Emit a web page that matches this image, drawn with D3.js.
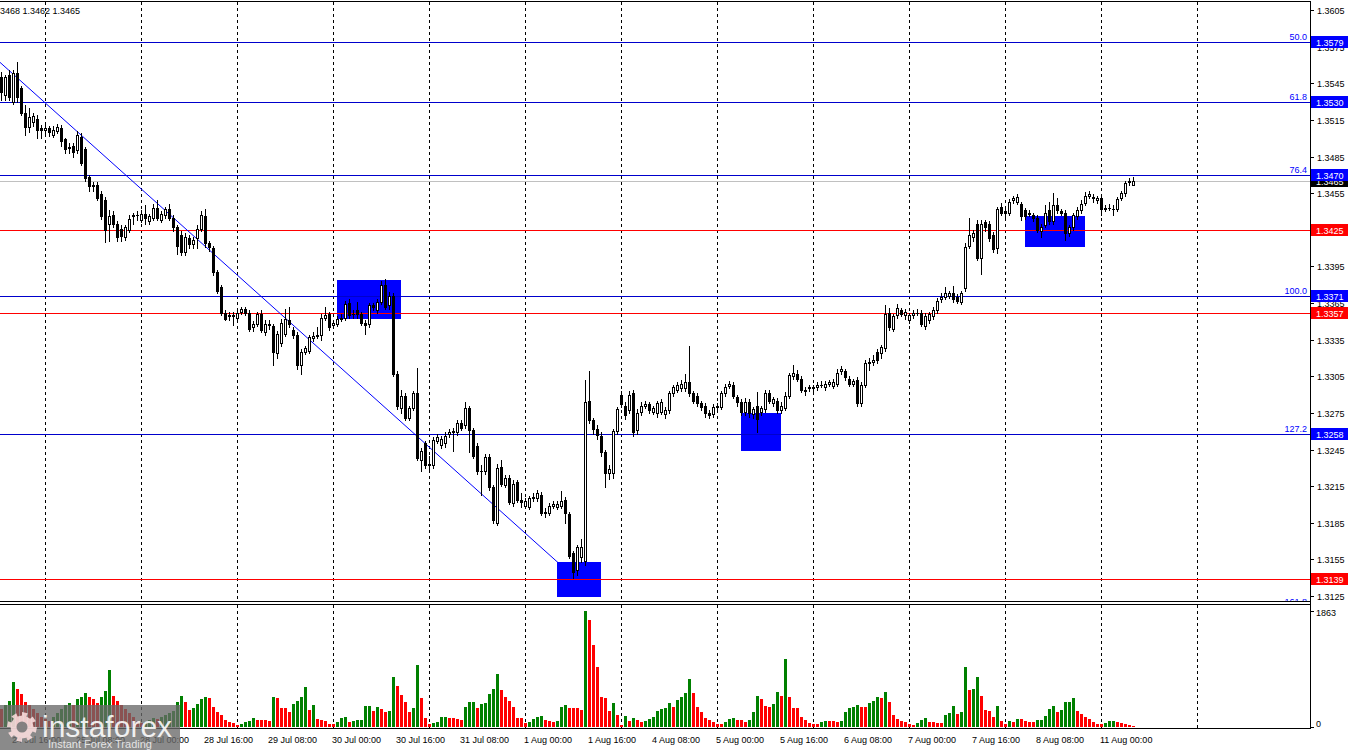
<!DOCTYPE html>
<html><head><meta charset="utf-8">
<script src="https://cdn.jsdelivr.net/npm/d3@7"></script>
<style>
body{margin:0;background:#fff;}
svg{display:block;font-family:"Liberation Sans",Arial,sans-serif;}
</style>
</head><body>
<svg id="c" width="1350" height="750"></svg>
<script>
// ---------------- DATA ----------------
const days = [
  {label:"24 Jul", from:13, to:23},
  {label:"25 Jul", from:0, to:23},
  {label:"28 Jul", from:0, to:23},
  {label:"29 Jul", from:0, to:23},
  {label:"30 Jul", from:0, to:23},
  {label:"31 Jul", from:0, to:23},
  {label:"1 Aug", from:0, to:23},
  {label:"4 Aug", from:0, to:23},
  {label:"5 Aug", from:0, to:23},
  {label:"6 Aug", from:0, to:23},
  {label:"7 Aug", from:0, to:23},
  {label:"8 Aug", from:0, to:23},
  {label:"11 Aug", from:0, to:8}
];
const futureDays = ["12 Aug"];

const open = [
1.3550,1.3535,1.3552,1.3530,1.3553,1.3541,1.3521,1.3509,1.3513,1.3516,1.3508,1.3507,
1.3508,1.3503,1.3506,1.3508,1.3499,1.3493,1.3494,1.3490,1.3501,1.3491,1.3468,1.3461,
1.3462,1.3454,1.3449,1.3430,1.3437,1.3430,1.3426,1.3419,1.3425,1.3436,1.3437,1.3433,
1.3438,1.3432,1.3435,1.3443,1.3433,1.3437,1.3442,1.3435,1.3427,1.3421,1.3407,1.3418,
1.3413,1.3418,1.3426,1.3436,1.3414,1.3410,1.3390,1.3378,1.3357,1.3354,1.3355,1.3353,
1.3358,1.3360,1.3357,1.3345,1.3348,1.3356,1.3341,1.3348,1.3346,1.3324,1.3332,1.3340,
1.3351,1.3343,1.3339,1.3314,1.3325,1.3326,1.3336,1.3338,1.3339,1.3353,1.3356,1.3347,
1.3348,1.3352,1.3353,1.3365,1.3356,1.3359,1.3356,1.3349,1.3348,1.3363,1.3359,1.3366,
1.3380,1.3363,1.3371,1.3307,1.3279,1.3289,1.3271,1.3279,1.3291,1.3236,1.3250,1.3233,
1.3232,1.3252,1.3249,1.3250,1.3258,1.3259,1.3259,1.3267,1.3265,1.3279,1.3261,1.3248,
1.3227,1.3227,1.3239,1.3214,1.3185,1.3231,1.3216,1.3222,1.3201,1.3218,1.3204,1.3199,
1.3198,1.3205,1.3205,1.3208,1.3194,1.3193,1.3199,1.3198,1.3199,1.3204,1.3192,1.3160,
1.3146,1.3157,1.3154,1.3285,1.3269,1.3262,1.3256,1.3243,1.3226,1.3226,1.3260,1.3290,
1.3281,1.3277,1.3291,1.3261,1.3276,1.3281,1.3282,1.3276,1.3275,1.3276,1.3274,1.3277,
1.3291,1.3294,1.3295,1.3295,1.3300,1.3291,1.3289,1.3283,1.3281,1.3275,1.3274,1.3280,
1.3280,1.3291,1.3297,1.3298,1.3288,1.3284,1.3276,1.3284,1.3274,1.3281,1.3276,1.3278,
1.3291,1.3283,1.3285,1.3277,1.3279,1.3289,1.3305,1.3307,1.3303,1.3294,1.3295,1.3296,
1.3296,1.3298,1.3296,1.3299,1.3297,1.3299,1.3309,1.3309,1.3303,1.3299,1.3302,1.3283,
1.3298,1.3316,1.3317,1.3325,1.3324,1.3328,1.3357,1.3344,1.3355,1.3359,1.3355,1.3351,
1.3355,1.3357,1.3357,1.3346,1.3351,1.3354,1.3359,1.3368,1.3370,1.3371,1.3373,1.3370,
1.3366,1.3377,1.3412,1.3419,1.3430,1.3402,1.3431,1.3430,1.3421,1.3410,1.3444,1.3440,
1.3439,1.3449,1.3448,1.3446,1.3441,1.3439,1.3437,1.3435,1.3424,1.3429,1.3441,1.3432,
1.3445,1.3440,1.3439,1.3422,1.3427,1.3436,1.3441,1.3447,1.3453,1.3452,1.3449,1.3451,
1.3442,1.3443,1.3442,1.3442,1.3451,1.3455,1.3464,1.3462];

const close = [
1.3538,1.3550,1.3534,1.3553,1.3534,1.3521,1.3509,1.3517,1.3518,1.3507,1.3507,1.3508,
1.3505,1.3507,1.3509,1.3498,1.3491,1.3492,1.3489,1.3503,1.3480,1.3467,1.3461,1.3462,
1.3451,1.3436,1.3425,1.3436,1.3430,1.3419,1.3420,1.3427,1.3434,1.3437,1.3437,1.3438,
1.3435,1.3436,1.3443,1.3435,1.3438,1.3442,1.3435,1.3427,1.3412,1.3407,1.3419,1.3413,
1.3417,1.3426,1.3437,1.3414,1.3411,1.3390,1.3375,1.3357,1.3352,1.3355,1.3354,1.3357,
1.3360,1.3357,1.3344,1.3348,1.3356,1.3343,1.3348,1.3347,1.3325,1.3340,1.3349,1.3352,
1.3348,1.3339,1.3314,1.3325,1.3328,1.3337,1.3338,1.3339,1.3353,1.3355,1.3345,1.3349,
1.3352,1.3353,1.3364,1.3355,1.3356,1.3356,1.3349,1.3347,1.3363,1.3362,1.3366,1.3380,
1.3362,1.3371,1.3307,1.3281,1.3289,1.3271,1.3279,1.3291,1.3238,1.3244,1.3232,1.3232,
1.3253,1.3255,1.3254,1.3256,1.3259,1.3260,1.3267,1.3263,1.3279,1.3261,1.3240,1.3227,
1.3227,1.3239,1.3214,1.3187,1.3230,1.3217,1.3222,1.3202,1.3217,1.3204,1.3202,1.3203,
1.3205,1.3206,1.3209,1.3193,1.3193,1.3199,1.3200,1.3200,1.3203,1.3193,1.3158,1.3145,
1.3165,1.3165,1.3284,1.3269,1.3262,1.3257,1.3243,1.3226,1.3229,1.3260,1.3278,1.3282,
1.3273,1.3290,1.3259,1.3275,1.3281,1.3282,1.3277,1.3279,1.3283,1.3284,1.3277,1.3291,
1.3296,1.3298,1.3299,1.3300,1.3291,1.3285,1.3283,1.3280,1.3275,1.3273,1.3280,1.3281,
1.3291,1.3296,1.3299,1.3289,1.3284,1.3276,1.3284,1.3275,1.3278,1.3270,1.3279,1.3291,
1.3285,1.3286,1.3277,1.3281,1.3289,1.3306,1.3308,1.3303,1.3294,1.3293,1.3296,1.3295,
1.3298,1.3298,1.3299,1.3300,1.3300,1.3308,1.3311,1.3304,1.3299,1.3301,1.3283,1.3298,
1.3316,1.3317,1.3318,1.3318,1.3329,1.3356,1.3345,1.3354,1.3361,1.3356,1.3358,1.3355,
1.3357,1.3357,1.3348,1.3354,1.3356,1.3359,1.3367,1.3370,1.3373,1.3373,1.3368,1.3367,
1.3373,1.3411,1.3421,1.3422,1.3402,1.3430,1.3427,1.3418,1.3409,1.3442,1.3439,1.3439,
1.3448,1.3451,1.3452,1.3436,1.3436,1.3438,1.3435,1.3425,1.3427,1.3439,1.3432,1.3445,
1.3441,1.3439,1.3422,1.3427,1.3437,1.3441,1.3446,1.3453,1.3454,1.3451,1.3451,1.3442,
1.3443,1.3443,1.3442,1.3450,1.3455,1.3463,1.3465,1.3465];

const high = [
1.3554,1.3552,1.3556,1.3556,1.3562,1.3543,1.3527,1.3525,1.3521,1.3519,1.3511,1.3511,
1.3510,1.3510,1.3512,1.3511,1.3500,1.3496,1.3496,1.3506,1.3504,1.3493,1.3470,1.3464,
1.3464,1.3457,1.3452,1.3441,1.3440,1.3432,1.3429,1.3429,1.3437,1.3439,1.3440,1.3441,
1.3445,1.3438,1.3446,1.3449,1.3440,1.3444,1.3446,1.3437,1.3429,1.3424,1.3422,1.3421,
1.3419,1.3429,1.3440,1.3442,1.3416,1.3412,1.3392,1.3380,1.3359,1.3358,1.3358,1.3359,
1.3362,1.3362,1.3359,1.3350,1.3358,1.3359,1.3351,1.3351,1.3348,1.3342,1.3352,1.3360,
1.3362,1.3345,1.3341,1.3327,1.3330,1.3339,1.3341,1.3345,1.3356,1.3362,1.3358,1.3351,
1.3354,1.3356,1.3367,1.3368,1.3359,1.3366,1.3358,1.3351,1.3365,1.3365,1.3368,1.3383,
1.3385,1.3374,1.3373,1.3309,1.3294,1.3291,1.3281,1.3293,1.3312,1.3246,1.3252,1.3240,
1.3255,1.3258,1.3256,1.3259,1.3262,1.3263,1.3269,1.3269,1.3284,1.3281,1.3263,1.3250,
1.3232,1.3241,1.3241,1.3216,1.3233,1.3236,1.3224,1.3224,1.3220,1.3220,1.3209,1.3205,
1.3207,1.3209,1.3212,1.3210,1.3197,1.3201,1.3203,1.3203,1.3211,1.3206,1.3194,1.3162,
1.3167,1.3172,1.3302,1.3309,1.3271,1.3265,1.3259,1.3245,1.3232,1.3262,1.3280,1.3293,
1.3284,1.3293,1.3294,1.3278,1.3284,1.3285,1.3284,1.3281,1.3285,1.3286,1.3280,1.3293,
1.3298,1.3300,1.3302,1.3307,1.3330,1.3293,1.3291,1.3285,1.3283,1.3277,1.3282,1.3283,
1.3293,1.3299,1.3301,1.3300,1.3290,1.3286,1.3287,1.3286,1.3280,1.3292,1.3281,1.3294,
1.3294,1.3288,1.3287,1.3284,1.3292,1.3308,1.3314,1.3310,1.3305,1.3296,1.3298,1.3298,
1.3300,1.3301,1.3301,1.3302,1.3303,1.3311,1.3313,1.3311,1.3305,1.3303,1.3304,1.3300,
1.3318,1.3320,1.3322,1.3327,1.3331,1.3363,1.3361,1.3356,1.3364,1.3361,1.3360,1.3357,
1.3359,1.3360,1.3359,1.3357,1.3358,1.3362,1.3369,1.3373,1.3378,1.3375,1.3379,1.3372,
1.3375,1.3414,1.3435,1.3425,1.3433,1.3433,1.3433,1.3432,1.3423,1.3444,1.3447,1.3443,
1.3450,1.3453,1.3454,1.3448,1.3443,1.3441,1.3439,1.3437,1.3430,1.3445,1.3448,1.3455,
1.3451,1.3442,1.3441,1.3429,1.3439,1.3444,1.3449,1.3456,1.3457,1.3454,1.3453,1.3453,
1.3445,1.3446,1.3445,1.3452,1.3457,1.3465,1.3467,1.3468];

const low = [
1.3531,1.3531,1.3531,1.3528,1.3530,1.3519,1.3503,1.3505,1.3510,1.3500,1.3500,1.3503,
1.3502,1.3501,1.3504,1.3494,1.3488,1.3488,1.3485,1.3488,1.3478,1.3465,1.3457,1.3457,
1.3449,1.3434,1.3415,1.3416,1.3427,1.3416,1.3416,1.3417,1.3423,1.3430,1.3433,1.3431,
1.3430,1.3430,1.3433,1.3433,1.3431,1.3435,1.3433,1.3424,1.3405,1.3404,1.3404,1.3410,
1.3410,1.3410,1.3424,1.3411,1.3408,1.3388,1.3373,1.3355,1.3351,1.3351,1.3347,1.3350,
1.3356,1.3355,1.3342,1.3342,1.3346,1.3341,1.3339,1.3344,1.3314,1.3320,1.3330,1.3338,
1.3345,1.3336,1.3311,1.3307,1.3323,1.3324,1.3334,1.3336,1.3335,1.3351,1.3343,1.3345,
1.3346,1.3350,1.3351,1.3353,1.3353,1.3353,1.3347,1.3340,1.3345,1.3359,1.3357,1.3364,
1.3360,1.3360,1.3305,1.3278,1.3275,1.3269,1.3269,1.3277,1.3236,1.3227,1.3230,1.3228,
1.3230,1.3250,1.3246,1.3247,1.3255,1.3244,1.3257,1.3261,1.3263,1.3243,1.3238,1.3225,
1.3208,1.3225,1.3212,1.3185,1.3183,1.3215,1.3214,1.3200,1.3199,1.3202,1.3198,1.3197,
1.3196,1.3203,1.3203,1.3191,1.3190,1.3191,1.3197,1.3196,1.3197,1.3185,1.3156,1.3140,
1.3142,1.3153,1.3150,1.3267,1.3258,1.3254,1.3240,1.3214,1.3221,1.3222,1.3258,1.3280,
1.3270,1.3275,1.3256,1.3258,1.3273,1.3279,1.3275,1.3274,1.3272,1.3274,1.3271,1.3275,
1.3289,1.3292,1.3293,1.3293,1.3289,1.3283,1.3281,1.3277,1.3272,1.3271,1.3272,1.3278,
1.3278,1.3289,1.3295,1.3287,1.3281,1.3273,1.3273,1.3272,1.3271,1.3259,1.3273,1.3276,
1.3283,1.3281,1.3275,1.3275,1.3277,1.3287,1.3303,1.3301,1.3292,1.3290,1.3293,1.3293,
1.3294,1.3296,1.3294,1.3297,1.3295,1.3297,1.3307,1.3302,1.3297,1.3297,1.3281,1.3281,
1.3296,1.3310,1.3314,1.3316,1.3320,1.3326,1.3343,1.3342,1.3353,1.3354,1.3352,1.3349,
1.3353,1.3355,1.3346,1.3344,1.3349,1.3352,1.3357,1.3366,1.3368,1.3369,1.3366,1.3365,
1.3364,1.3375,1.3410,1.3416,1.3400,1.3389,1.3424,1.3416,1.3407,1.3406,1.3437,1.3435,
1.3437,1.3447,1.3446,1.3433,1.3434,1.3436,1.3432,1.3423,1.3419,1.3427,1.3430,1.3430,
1.3439,1.3437,1.3417,1.3420,1.3425,1.3434,1.3439,1.3445,1.3451,1.3448,1.3447,1.3437,
1.3440,1.3441,1.3437,1.3440,1.3449,1.3453,1.3462,1.3462];

const volume = [
288,352,416,720,608,528,400,352,288,224,160,128,
96,160,224,288,352,384,352,448,480,544,480,448,
384,480,576,912,496,416,352,288,224,160,96,64,
80,112,144,128,160,192,224,256,400,496,400,272,
304,368,448,480,464,320,240,192,112,80,64,32,
48,80,96,144,112,112,112,96,480,464,304,304,
240,368,416,480,640,272,352,128,112,96,48,48,
80,144,160,80,96,112,118,336,340,256,320,288,
240,256,800,656,512,400,240,304,992,464,144,48,
64,80,160,164,144,144,128,112,320,400,404,304,
368,384,528,608,848,592,480,416,320,144,140,64,
80,128,160,176,112,96,80,96,320,352,304,300,
298,272,1863,1712,1312,960,480,464,256,384,192,32,
176,96,144,112,80,96,128,160,256,288,304,384,
320,432,480,544,768,544,320,240,144,112,80,48,
44,80,128,144,112,108,80,112,240,496,448,336,
320,368,560,496,1088,480,304,300,160,112,64,48,
44,80,96,96,92,80,96,240,304,320,352,320,
320,384,416,480,464,560,400,192,128,96,80,48,
32,64,112,144,80,76,72,70,192,224,336,208,
240,960,592,608,800,496,272,256,160,336,96,48,
96,80,128,124,96,80,76,112,116,176,288,336,
240,272,400,404,464,256,208,160,128,80,48,44,
64,96,100,80,64,48,32,16];

const priceTicks = [1.3605,1.3575,1.3545,1.3515,1.3485,1.3455,1.3425,1.3395,1.3365,1.3335,1.3305,1.3275,1.3245,1.3215,1.3185,1.3155,1.3125];
const volumeTicks = [1863, 0];
const timeLabels = ["24 Jul 16:00","25 Jul 08:00","28 Jul 00:00","28 Jul 16:00","29 Jul 08:00","30 Jul 00:00","30 Jul 16:00","31 Jul 08:00","1 Aug 00:00","1 Aug 16:00","4 Aug 08:00","5 Aug 00:00","5 Aug 16:00","6 Aug 08:00","7 Aug 00:00","7 Aug 16:00","8 Aug 08:00","11 Aug 00:00"];

const fibLevels = [
  {name:"50.0", price:1.3579},
  {name:"61.8", price:1.3530},
  {name:"76.4", price:1.3470},
  {name:"100.0", price:1.3371},
  {name:"127.2", price:1.3258},
  {name:"161.8", price:1.3116}
];
const redLevels = [1.3425, 1.3357, 1.3139];
const bidPrice = 1.3465;
const headerText = "3468 1.3462 1.3465";
// zones: bar-index anchors and price bounds
const zoneFrom = [84, 139, 185, 256];
const zoneTo   = [100, 150, 195, 271];
const zoneTop  = [1.3384, 1.3153, 1.3275, 1.3436];
const zoneBot  = [1.3352, 1.3124, 1.3244, 1.3411];
// trend line anchors (bar index, price)
const trendBars = [0, 143];
const trendPrices = [1.3561, 1.3141];

// ---------------- LAYOUT ----------------
const svg = d3.select("#c");
const AX = 1310;             // right axis x
const P = {top:2, bottom:602};
const V = {top:605, bottom:728};
const FONT = 9;

const bars = [];
days.forEach(d => { for (let h = d.from; h <= d.to; h++) bars.push({day:d.label, hour:h}); });
const n = bars.length;
const data = d3.range(n).map(i => ({i, o:open[i], h:high[i], l:low[i], c:close[i], v:volume[i], t:bars[i]}));

const x = d3.scaleLinear().domain([0, n - 1]).range([1.5, 1.5 + 4 * (n - 1)]);
const y = d3.scaleLinear().domain([1.3125, 1.3605]).range([596, 10]);
const yv = d3.scaleLinear().domain([0, 1863]).range([727, 611]);

const fmt = d3.format(".4f");
const pad2 = h => (h < 10 ? "0" : "") + h + ":00";

// clip paths
const defs = svg.append("defs");
defs.append("clipPath").attr("id","clipP").append("rect").attr("x",0).attr("y",P.top).attr("width",AX).attr("height",P.bottom-P.top);
defs.append("clipPath").attr("id","clipV").append("rect").attr("x",0).attr("y",V.top).attr("width",AX).attr("height",V.bottom-V.top);

// grid (day boundaries)
const dayStarts = data.filter(d => d.t.hour === 0).map(d => d.i);
let lastStart = dayStarts[dayStarts.length - 1];
futureDays.forEach((fd, k) => dayStarts.push(lastStart + 24 * (k + 1)));
const grid = svg.append("g").attr("stroke","#000").attr("stroke-dasharray","3,3").attr("shape-rendering","crispEdges");
dayStarts.forEach(i => {
  const gx = Math.floor(x(i)) + 0.5;
  grid.append("line").attr("x1",gx).attr("x2",gx).attr("y1",P.top).attr("y2",P.bottom);
  grid.append("line").attr("x1",gx).attr("x2",gx).attr("y1",V.top).attr("y2",V.bottom);
});

// price pane contents
const pg = svg.append("g").attr("clip-path","url(#clipP)");
// zones
pg.selectAll("rect.zone").data(zoneFrom.map((f,k)=>({f, t:zoneTo[k], top:zoneTop[k], bot:zoneBot[k]})))
  .join("rect").attr("class","zone")
  .attr("x", d => Math.floor(x(d.f))).attr("width", d => Math.floor(x(d.t)) - Math.floor(x(d.f)))
  .attr("y", d => Math.round(y(d.top))).attr("height", d => Math.round(y(d.bot)) - Math.round(y(d.top)))
  .attr("fill","#0000FF").attr("shape-rendering","crispEdges");

// horizontal levels
const ly = p => Math.round(y(p)) + 0.5;
pg.append("line").attr("x1",0).attr("x2",AX).attr("y1",ly(bidPrice)).attr("y2",ly(bidPrice)).attr("stroke","#C0C0C0").attr("stroke-width",1).attr("shape-rendering","crispEdges");
fibLevels.forEach(f => {
  pg.append("line").attr("x1",0).attr("x2",AX).attr("y1",ly(f.price)).attr("y2",ly(f.price)).attr("stroke","#0000CC").attr("stroke-width",1).attr("shape-rendering","crispEdges");
  pg.append("text").attr("x",AX-3).attr("y",ly(f.price)-2.5).attr("text-anchor","end").attr("font-size",FONT).attr("fill","#0000FF").text(f.name);
});
redLevels.forEach(p => {
  pg.append("line").attr("x1",0).attr("x2",AX).attr("y1",ly(p)).attr("y2",ly(p)).attr("stroke","#FF0000").attr("stroke-width",1).attr("shape-rendering","crispEdges");
});

// trend line (extended to left edge)
const tSlope = (trendPrices[1]-trendPrices[0])/(trendBars[1]-trendBars[0]);
const iLeft = x.invert(0);
pg.append("line")
  .attr("x1",0).attr("y1",y(trendPrices[0] + tSlope*(iLeft-trendBars[0])))
  .attr("x2",x(trendBars[1])).attr("y2",y(trendPrices[1]))
  .attr("stroke","#0000FF").attr("stroke-width",1);

// candles
const cg = pg.append("g").attr("shape-rendering","crispEdges");
cg.selectAll("line.wick").data(data).join("line").attr("class","wick")
  .attr("x1",d=>x(d.i)).attr("x2",d=>x(d.i))
  .attr("y1",d=>Math.round(y(d.h))).attr("y2",d=>Math.round(y(d.l))+1)
  .attr("stroke","#000");
data.forEach(d => {
  const yo = Math.round(y(d.o)), yc = Math.round(y(d.c)), cx = x(d.i);
  if (d.c > d.o) {
    cg.append("rect").attr("x",cx-1).attr("y",yc+0.5).attr("width",2).attr("height",Math.max(yo-yc,1))
      .attr("fill","#fff").attr("stroke","#000");
  } else if (d.c < d.o) {
    cg.append("rect").attr("x",cx-1.5).attr("y",yo).attr("width",3).attr("height",Math.max(yc-yo+1,1)).attr("fill","#000");
  } else {
    cg.append("line").attr("x1",cx-1.5).attr("x2",cx+1.5).attr("y1",yo+0.5).attr("y2",yo+0.5).attr("stroke","#000");
  }
});

// volume pane
const vg = svg.append("g").attr("clip-path","url(#clipV)").attr("shape-rendering","crispEdges");
vg.selectAll("rect.vol").data(data).join("rect").attr("class","vol")
  .attr("x",d=>x(d.i)-1.5).attr("width",3)
  .attr("y",d=>Math.round(yv(d.v))).attr("height",d=>Math.max(yv(0)-Math.round(yv(d.v)),1))
  .attr("fill",d=> (d.i>0 && d.v > volume[d.i-1]) ? "#008000" : "#FF0000");

// frames
const fr = svg.append("g").attr("stroke","#000").attr("shape-rendering","crispEdges");
fr.append("line").attr("x1",0).attr("x2",AX+0.5).attr("y1",1.5).attr("y2",1.5);
fr.append("line").attr("x1",0).attr("x2",AX+0.5).attr("y1",P.bottom-0.5).attr("y2",P.bottom-0.5);
fr.append("line").attr("x1",0).attr("x2",AX+0.5).attr("y1",V.top-0.5).attr("y2",V.top-0.5);
fr.append("line").attr("x1",0).attr("x2",AX+0.5).attr("y1",V.bottom+0.5).attr("y2",V.bottom+0.5);
fr.append("line").attr("x1",AX+0.5).attr("x2",AX+0.5).attr("y1",1.5).attr("y2",V.bottom+1);

// price axis ticks & labels
const ax = svg.append("g").attr("font-size",FONT).attr("fill","#000");
priceTicks.forEach(p => {
  const ty = ly(p);
  ax.append("line").attr("x1",AX).attr("x2",AX+4).attr("y1",ty).attr("y2",ty).attr("stroke","#000").attr("shape-rendering","crispEdges");
  ax.append("text").attr("x",AX+7).attr("y",ty+3.5).text(fmt(p));
});
volumeTicks.forEach(v => {
  const ty = Math.round(yv(v)) + 0.5;
  ax.append("line").attr("x1",AX).attr("x2",AX+4).attr("y1",ty).attr("y2",ty).attr("stroke","#000").attr("shape-rendering","crispEdges");
  ax.append("text").attr("x",AX+6).attr("y",ty+ (v===0 ? -1 : 4)).text(v);
});

// level price boxes
function box(p, color) {
  const ty = ly(p);
  const g = svg.append("g");
  g.append("rect").attr("x",AX+1).attr("y",ty-6.5).attr("width",37).attr("height",12).attr("fill",color).attr("shape-rendering","crispEdges");
  g.append("text").attr("x",AX+6).attr("y",ty+3.5).attr("font-size",FONT).attr("fill","#fff").text(fmt(p));
}
box(bidPrice, "#000");
redLevels.forEach(p => box(p, "#FF0000"));
fibLevels.filter(f => f.price >= y.domain()[0]).forEach(f => box(f.price, "#0000FF"));

// header
svg.append("text").attr("x",0).attr("y",14).attr("font-size",FONT).attr("fill","#000").text(headerText);

// time labels
const tl = svg.append("g").attr("font-size",FONT).attr("fill","#000");
timeLabels.forEach(lbl => {
  const d = data.find(d => (d.t.day + " " + pad2(d.t.hour)) === lbl);
  if (!d) return;
  tl.append("text").attr("x",x(d.i)-1.5).attr("y",743).text(lbl);
});

// watermark
const wm = svg.append("g");
wm.append("rect").attr("x",0).attr("y",705).attr("width",180).attr("height",45).attr("fill","rgba(105,105,105,0.78)");
const gear = [];
const teeth = 8, rO = 15, rI = 11.5, cxg = 22, cyg = 727;
for (let k = 0; k < teeth * 2; k++) {
  const a0 = (k / (teeth * 2)) * Math.PI * 2, a1 = ((k + 1) / (teeth * 2)) * Math.PI * 2;
  const r = k % 2 === 0 ? rO : rI;
  gear.push([cxg + r * Math.cos(a0), cyg + r * Math.sin(a0)]);
  gear.push([cxg + r * Math.cos(a1), cyg + r * Math.sin(a1)]);
}
wm.append("path").attr("d", d3.line()(gear) + "Z").attr("fill","rgba(255,225,225,0.85)");
wm.append("circle").attr("cx",cxg).attr("cy",cyg).attr("r",5.5).attr("fill","rgba(120,120,120,0.9)");
wm.append("text").attr("x",42).attr("y",737).attr("font-size",30).attr("fill","rgba(255,255,255,0.88)").text("instaforex");
wm.append("text").attr("x",48).attr("y",748).attr("font-size",11).attr("fill","rgba(235,235,235,0.95)").text("Instant Forex Trading");
</script>
</body></html>
